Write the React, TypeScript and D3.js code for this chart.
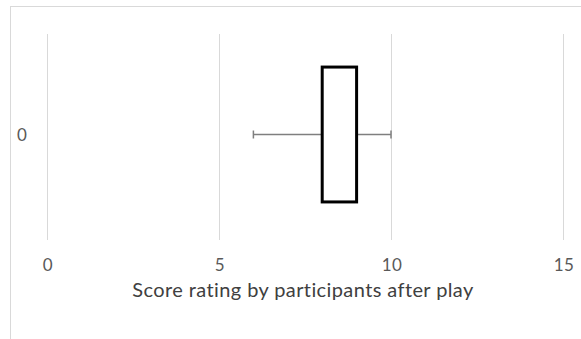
import { useEffect, useRef } from 'react'
import * as d3 from 'd3'

const categories = ['0']
const minValues = [6]
const q1Values = [8]
const q3Values = [9]
const maxValues = [10]
const xTicks = [0, 5, 10, 15]
const xTitle = 'Score rating by participants after play'

const W = 581
const H = 339
const FONT = 'Lato, "Open Sans", "Liberation Sans", sans-serif'

export default function App() {
  const svgRef = useRef<SVGSVGElement>(null)

  useEffect(() => {
    const svg = d3.select(svgRef.current)
    svg.selectAll('*').remove()

    const x = d3.scaleLinear().domain([0, 15]).range([47, 563])
    const y = d3.scaleBand<string>().domain(categories).range([32, 237]).paddingInner(0).paddingOuter(0.26)

    // chart frame (right and bottom edges run off the page)
    svg.append('rect')
      .attr('x', 10.5).attr('y', 6.5)
      .attr('width', 700).attr('height', 500)
      .attr('fill', '#fff')
      .attr('stroke', '#d9d9d9')
      .attr('stroke-width', 1)

    // vertical gridlines
    svg.append('g')
      .selectAll('line')
      .data(xTicks)
      .enter()
      .append('line')
      .attr('x1', d => Math.round(x(d)) + 0.5)
      .attr('x2', d => Math.round(x(d)) + 0.5)
      .attr('y1', 34)
      .attr('y2', 240)
      .attr('stroke', '#d9d9d9')
      .attr('stroke-width', 1)

    // x tick labels
    svg.append('g')
      .selectAll('text')
      .data(xTicks)
      .enter()
      .append('text')
      .attr('x', d => x(d) + 1)
      .attr('y', 271)
      .attr('text-anchor', 'middle')
      .style('font-family', FONT)
      .style('font-size', '17px')
      .style('letter-spacing', '0.5px')
      .style('fill', '#595959')
      .text(d => String(d))

    // category label
    svg.append('g')
      .selectAll('text')
      .data(categories)
      .enter()
      .append('text')
      .attr('x', 22)
      .attr('y', d => (y(d) ?? 0) + y.bandwidth() / 2 + 6)
      .attr('text-anchor', 'middle')
      .style('font-family', FONT)
      .style('font-size', '17px')
      .style('fill', '#595959')
      .text(d => d)

    // whiskers and boxes
    const boxes = categories.map((c, i) => ({
      c, min: minValues[i], q1: q1Values[i], q3: q3Values[i], max: maxValues[i],
    }))
    const g = svg.append('g')
    boxes.forEach(b => {
      const cy = (y(b.c) ?? 0) + y.bandwidth() / 2
      g.append('line')
        .attr('x1', x(b.min)).attr('x2', x(b.q1))
        .attr('y1', cy).attr('y2', cy)
        .attr('stroke', '#7f7f7f').attr('stroke-width', 1.5)
      g.append('line')
        .attr('x1', x(b.q3)).attr('x2', x(b.max))
        .attr('y1', cy).attr('y2', cy)
        .attr('stroke', '#7f7f7f').attr('stroke-width', 1.5)
      ;[b.min, b.max].forEach(v => {
        g.append('line')
          .attr('x1', x(v)).attr('x2', x(v))
          .attr('y1', cy - 4).attr('y2', cy + 4)
          .attr('stroke', '#7f7f7f').attr('stroke-width', 1.5)
      })
      g.append('rect')
        .attr('x', x(b.q1))
        .attr('y', y(b.c) ?? 0)
        .attr('width', x(b.q3) - x(b.q1))
        .attr('height', y.bandwidth())
        .attr('fill', '#fff')
        .attr('stroke', '#000')
        .attr('stroke-width', 3)
    })

    // axis title
    svg.append('text')
      .attr('x', 303)
      .attr('y', 297)
      .attr('text-anchor', 'middle')
      .style('font-family', FONT)
      .style('font-size', '20px')
      .style('letter-spacing', '0.4px')
      .style('fill', '#404040')
      .text(xTitle)
  }, [])

  return (
    <svg
      ref={svgRef}
      width={W}
      height={H}
      style={{ position: 'absolute', left: 0, top: 0, background: '#fff' }}
    />
  )
}
